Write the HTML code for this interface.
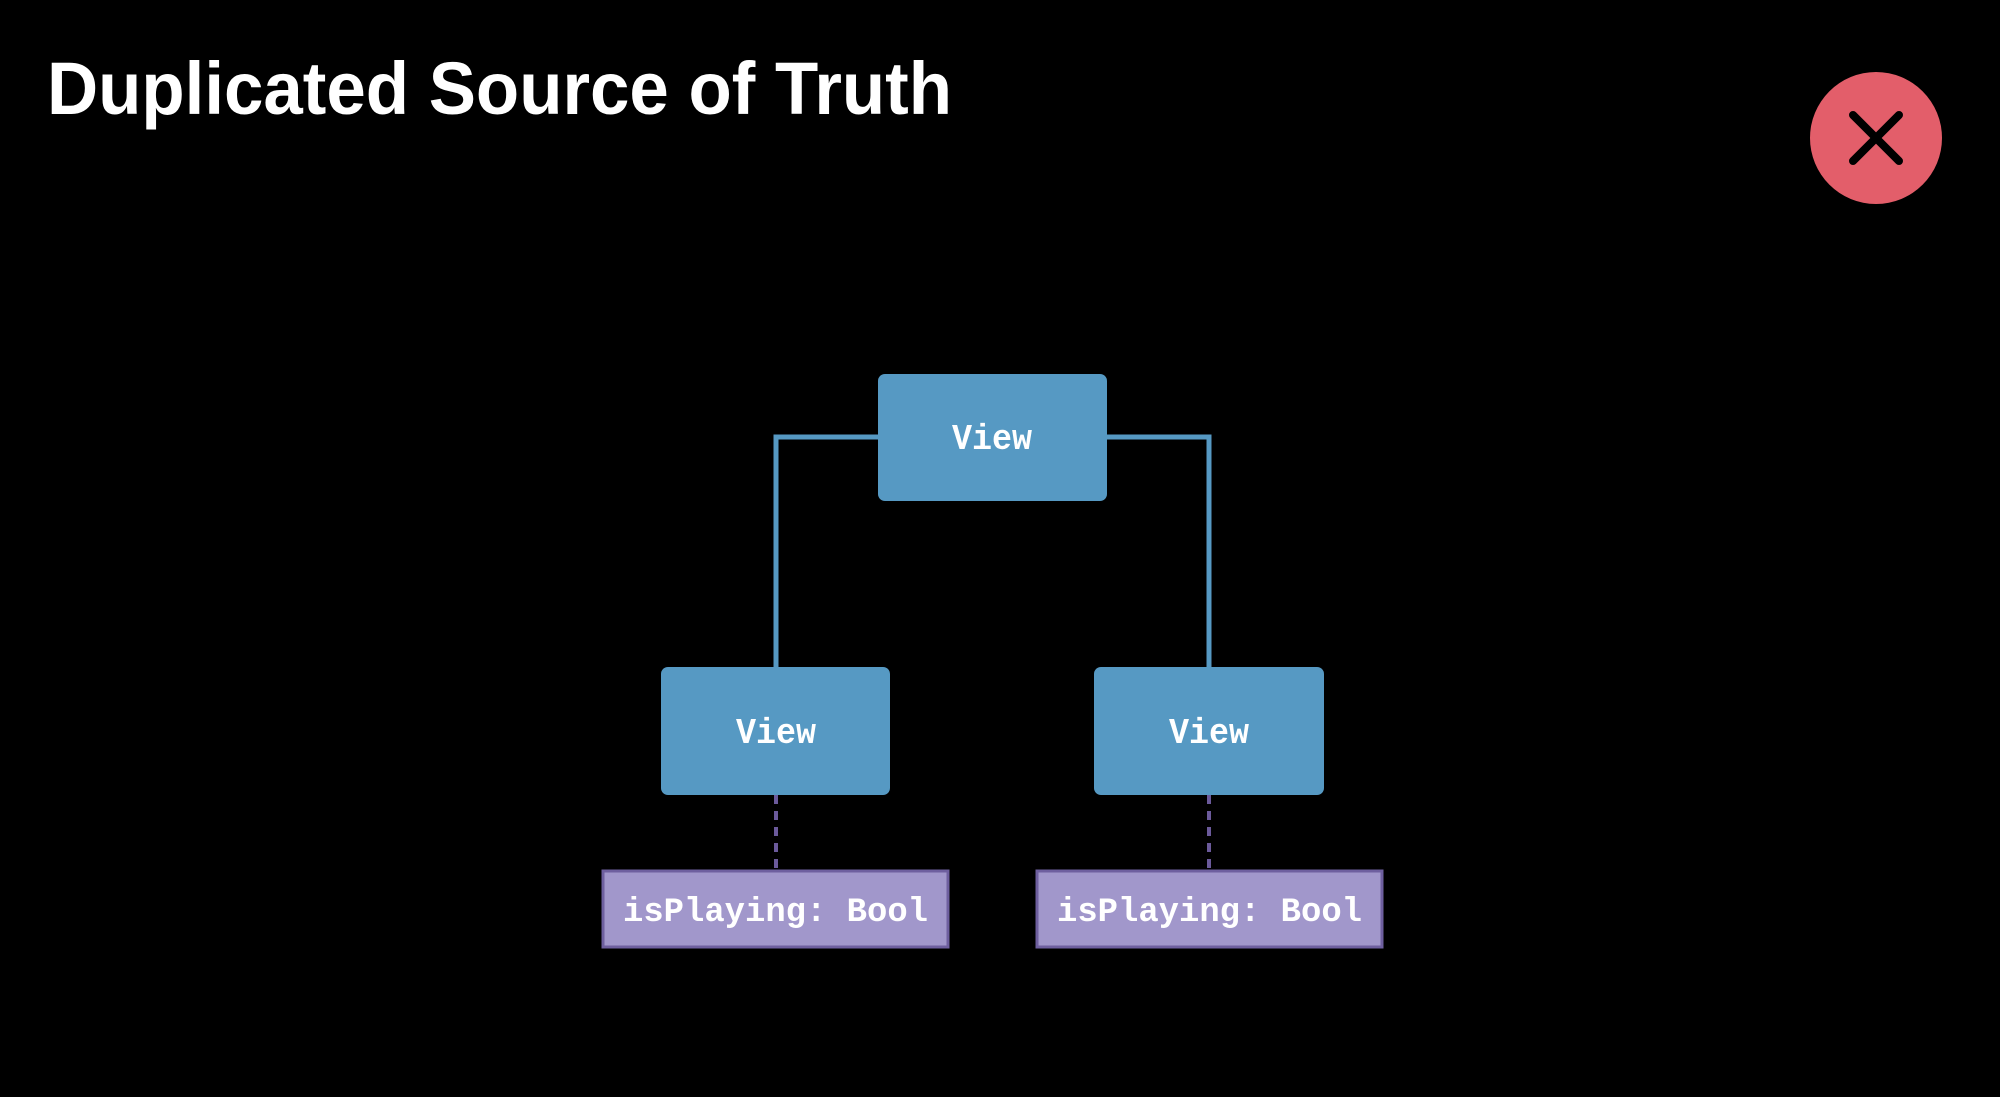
<!DOCTYPE html>
<html><head><meta charset="utf-8"><style>
html,body{margin:0;padding:0;background:#000;}
svg{display:block}
</style></head><body>
<svg width="2000" height="1097" viewBox="0 0 2000 1097" xmlns="http://www.w3.org/2000/svg">
<rect width="2000" height="1097" fill="#000"/>
<text x="47" y="114" font-family="Liberation Sans, sans-serif" font-weight="bold" font-size="74" fill="#fff" textLength="905" lengthAdjust="spacingAndGlyphs">Duplicated Source of Truth</text>
<circle cx="1876" cy="138" r="66" fill="#e35e6a"/>
<path d="M1853 115 L1899 161 M1899 115 L1853 161" stroke="#000" stroke-width="8" stroke-linecap="round"/>
<path d="M878 437 H776 V667 M1107 437 H1209 V667" fill="none" stroke="#5699c3" stroke-width="5"/>
<path d="M776 795 V870 M1209 795 V870" stroke="#6b5a9b" stroke-width="4" stroke-dasharray="9 7"/>
<rect x="878" y="374" width="229" height="127" rx="7" fill="#5699c3"/>
<rect x="661" y="667" width="229" height="128" rx="7" fill="#5699c3"/>
<rect x="1094" y="667" width="230" height="128" rx="7" fill="#5699c3"/>
<g font-family="Liberation Mono, monospace" font-size="36" font-weight="bold" fill="#fff" text-anchor="middle">
<text x="992" y="449" textLength="80" lengthAdjust="spacingAndGlyphs">View</text>
<text x="776" y="743" textLength="80" lengthAdjust="spacingAndGlyphs">View</text>
<text x="1209" y="743" textLength="80" lengthAdjust="spacingAndGlyphs">View</text>
</g>
<rect x="603" y="871" width="345" height="76" fill="#a197cb" stroke="#6e5f9f" stroke-width="3"/>
<rect x="1037" y="871" width="345" height="76" fill="#a197cb" stroke="#6e5f9f" stroke-width="3"/>
<g font-family="Liberation Mono, monospace" font-size="34" font-weight="bold" fill="#fff">
<text x="623" y="921" textLength="305" lengthAdjust="spacingAndGlyphs">isPlaying: Bool</text>
<text x="1057" y="921" textLength="305" lengthAdjust="spacingAndGlyphs">isPlaying: Bool</text>
</g>
</svg>
</body></html>
